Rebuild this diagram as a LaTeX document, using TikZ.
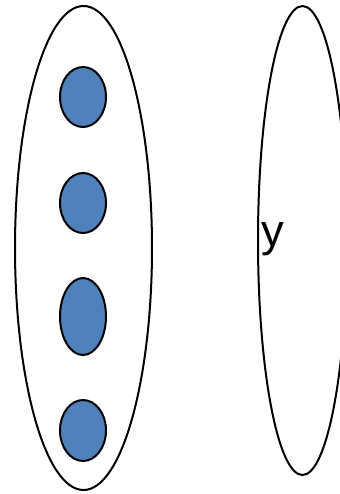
\documentclass[tikz,border=0pt]{standalone}
\usepackage{fontspec}
\setmainfont{Liberation Sans}
\usetikzlibrary{shapes.geometric}
\definecolor{dotblue}{HTML}{4F81BD}
\begin{document}
\begin{tikzpicture}[x=0.75pt,y=-0.75pt,
  setshape/.style={ellipse,draw=black,line width=1.5pt,inner sep=0pt},
  elem/.style={ellipse,draw=black,fill=dotblue,line width=1.5pt,inner sep=0pt,minimum width=34.5pt}]
\useasboundingbox (0,0) rectangle (340,494);
\node[setshape,minimum width=102.75pt,minimum height=363pt] (left) at (83.5,248) {};
\node[setshape,minimum width=66.75pt,minimum height=351.75pt] (right) at (302.5,240.5) {};
\node[elem,minimum height=45pt] (e1) at (83,97) {};
\node[elem,minimum height=45pt] (e2) at (83,203) {};
\node[elem,minimum height=57.75pt] (e3) at (83,316.5) {};
\node[elem,minimum height=45.75pt] (e4) at (83,430.5) {};
\node[anchor=base west,inner sep=0pt,font=\fontsize{34}{34}\selectfont] (ylab) at (261,246) {y};
\end{tikzpicture}
\end{document}
